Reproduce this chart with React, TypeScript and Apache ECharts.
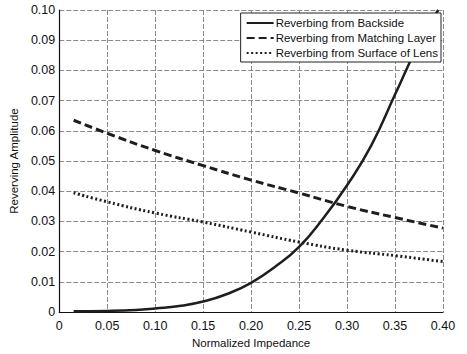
import React, { useEffect, useRef } from "react";
import * as echarts from "echarts";

const backsideX = [0.015, 0.05, 0.08, 0.10, 0.125, 0.15, 0.175, 0.20, 0.225, 0.25, 0.275, 0.30, 0.325, 0.35, 0.375, 0.395];
const backsideY = [0.0003, 0.0004, 0.0007, 0.0012, 0.002, 0.0035, 0.006, 0.0097, 0.015, 0.0216, 0.031, 0.042, 0.055, 0.072, 0.089, 0.100];
const matchingX = [0.015, 0.05, 0.10, 0.15, 0.20, 0.25, 0.30, 0.35, 0.40];
const matchingY = [0.0635, 0.0592, 0.0535, 0.0485, 0.0437, 0.0394, 0.035, 0.0313, 0.0278];
const surfaceX = [0.015, 0.05, 0.10, 0.15, 0.20, 0.25, 0.30, 0.35, 0.40];
const surfaceY = [0.0395, 0.0365, 0.0328, 0.0298, 0.0265, 0.0232, 0.0205, 0.0187, 0.0167];
const seriesNames = ["Reverbing from Backside", "Reverbing from Matching Layer", "Reverbing from Surface of Lens"];
const xName = "Normalized Impedance";
const yName = "Reverving Amplitude";

const zip = (xs: number[], ys: number[]) => xs.map((x, i) => [x, ys[i]]);

export default function App() {
  const ref = useRef<HTMLDivElement>(null);
  useEffect(() => {
    if (!ref.current) return;
    const chart = echarts.init(ref.current, undefined, { renderer: "svg" });
    const font = "Liberation Sans, Arial, sans-serif";
    const lineColor = "#1e1e1e";
    const fmt = (v: number) => (Math.abs(v) < 1e-9 ? "0" : v.toFixed(2));
    chart.setOption({
      animation: false,
      backgroundColor: "#ffffff",
      textStyle: { fontFamily: font },
      grid: { left: 57, right: 24, top: 10, bottom: 34, containLabel: false },
      legend: {
        orient: "vertical",
        right: 26,
        top: 13,
        itemWidth: 27,
        itemHeight: 10,
        itemGap: 3,
        padding: [4, 3, 3, 5],
        borderColor: "#222",
        borderWidth: 1,
        backgroundColor: "#fff",
        itemStyle: { opacity: 0 },
        textStyle: { fontFamily: font, fontSize: 11.5, color: "#111", padding: [0, 0, 0, -3] },
        data: seriesNames,
      },
      xAxis: {
        type: "value",
        min: 0,
        max: 0.4,
        interval: 0.05,
        name: xName,
        nameLocation: "middle",
        nameGap: 23,
        nameTextStyle: { fontFamily: font, fontSize: 11.5, color: "#111" },
        axisLine: { show: true, lineStyle: { color: "#111", width: 1.2 } },
        axisTick: { show: false },
        axisLabel: { formatter: fmt, fontSize: 12.5, color: "#111", fontFamily: font, margin: 7 },
        splitLine: { show: true, lineStyle: { color: "#8a8a8a", type: [5, 2], width: 1 } },
      },
      yAxis: {
        type: "value",
        min: 0,
        max: 0.1,
        interval: 0.01,
        name: yName,
        nameLocation: "middle",
        nameGap: 37,
        nameTextStyle: { fontFamily: font, fontSize: 11.5, color: "#111" },
        axisLine: { show: true, lineStyle: { color: "#111", width: 1.2 } },
        axisTick: { show: false },
        axisLabel: { formatter: fmt, fontSize: 12.5, color: "#111", fontFamily: font, margin: 4 },
        splitLine: { show: true, lineStyle: { color: "#8a8a8a", type: [5, 2], width: 1 } },
      },
      series: [
        {
          name: seriesNames[0],
          type: "line",
          data: zip(backsideX, backsideY),
          smooth: true,
          symbol: "none",
          lineStyle: { color: lineColor, width: 2.5, type: "solid" },
          itemStyle: { color: lineColor },
        },
        {
          name: seriesNames[1],
          type: "line",
          data: zip(matchingX, matchingY),
          smooth: true,
          symbol: "none",
          lineStyle: { color: lineColor, width: 3, type: [8, 4] },
          itemStyle: { color: lineColor },
        },
        {
          name: seriesNames[2],
          type: "line",
          data: zip(surfaceX, surfaceY),
          smooth: true,
          symbol: "none",
          lineStyle: { color: lineColor, width: 3, type: [2, 2.5] },
          itemStyle: { color: lineColor },
        },
      ],
    });
    return () => chart.dispose();
  }, []);
  return <div ref={ref} style={{ width: 467, height: 354, position: "absolute", left: 0, top: 0 }} />;
}
